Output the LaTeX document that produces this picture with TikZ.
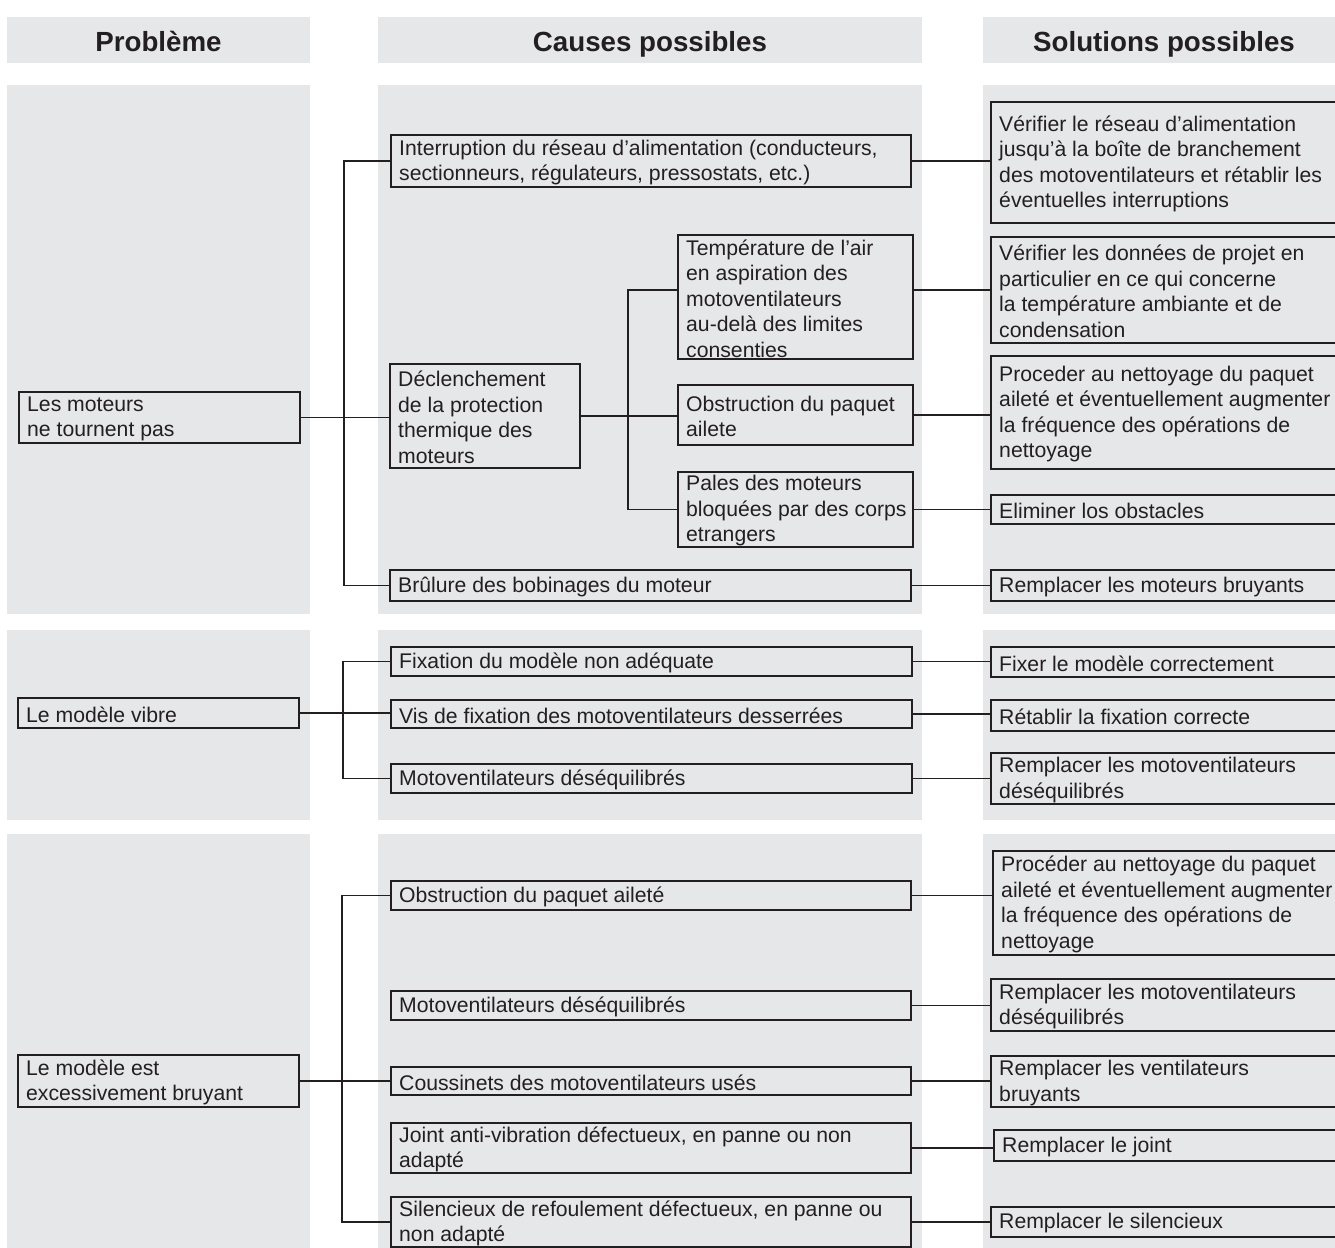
\documentclass[tikz,border=0pt]{standalone}
\usepackage{fontspec}
\setmainfont{Liberation Sans}
\definecolor{bg}{HTML}{E6E7E8}
\definecolor{ink}{HTML}{231F20}
\tikzset{
  boxst/.style={draw=ink, line width=1.8pt, fill=bg, inner sep=0pt, rectangle},
  txtst/.style={inner sep=0pt, align=left, text=ink, font=\fontsize{21.2pt}{25.5pt}\selectfont},
  headst/.style={inner sep=0pt, text=ink, anchor=base, font=\fontsize{27.7pt}{30pt}\selectfont\bfseries},
  wire/.style={draw=ink, line width=1.8pt},
  panel/.style={fill=bg, draw=none}
}
\newcommand\mkbox[6]{%
  \node[boxst, anchor=north west, minimum width={#4pt-#2pt}, minimum height={#5pt-#3pt}] (#1) at (#2,#3) {};
  \node[txtst, anchor=west] (#1t) at ([xshift=9pt,yshift=-1.5pt]#1.west) {#6};}
\begin{document}
\begin{tikzpicture}[x=1pt,y=-1pt]
\path[use as bounding box] (0,0) rectangle (1335,1247);
\clip (0,0) rectangle (1335,1247);
% panels
\foreach \t/\b in {17/63,85/614,630/820,834/1250}{
  \fill[panel] (7,\t) rectangle (310,\b);
  \fill[panel] (378,\t) rectangle (922,\b);
  \fill[panel] (983,\t) rectangle (1345,\b);
}
% headers
\node[headst] (h1) at (158.5,51.5) {Problème};
\node[headst] (h2) at (650,51.5) {Causes possibles};
\node[headst] (h3) at (1164,51.5) {Solutions possibles};
% problems
\mkbox{p1}{18}{391}{299}{442}{Les moteurs\\ne tournent pas}
\mkbox{p2}{17}{697}{298}{727}{Le modèle vibre}
\mkbox{p3}{17}{1054}{298}{1106}{Le modèle est\\excessivement bruyant}
% causes
\mkbox{c1}{390}{134}{910}{186}{Interruption du réseau d’alimentation (conducteurs,\\sectionneurs, régulateurs, pressostats, etc.)}
\mkbox{c2}{389}{363}{579}{467}{Déclenchement\\de la protection\\thermique des\\moteurs}
\mkbox{c3}{677}{234}{912}{358}{Température de l’air\\en aspiration des\\motoventilateurs\\au-delà des limites\\consenties}
\mkbox{c4}{677}{384}{912}{444}{Obstruction du paquet\\ailete}
\mkbox{c5}{677}{471}{912}{546}{Pales des moteurs\\bloquées par des corps\\etrangers}
\mkbox{c6}{389}{569}{910}{600}{Brûlure des bobinages du moteur}
\mkbox{c7}{390}{646}{911}{675}{Fixation du modèle non adéquate}
\mkbox{c8}{390}{699}{911}{727}{Vis de fixation des motoventilateurs desserrées}
\mkbox{c9}{390}{763}{911}{792}{Motoventilateurs déséquilibrés}
\mkbox{c10}{390}{880}{910}{909}{Obstruction du paquet aileté}
\mkbox{c11}{390}{990}{910}{1019}{Motoventilateurs déséquilibrés}
\mkbox{c12}{390}{1066}{910}{1094}{Coussinets des motoventilateurs usés}
\mkbox{c13}{390}{1122}{910}{1172}{Joint anti-vibration défectueux, en panne ou non\\adapté}
\mkbox{c14}{390}{1196}{910}{1246}{Silencieux de refoulement défectueux, en panne ou\\non adapté}
% solutions
\mkbox{s1}{990}{101}{1345}{222}{Vérifier le réseau d’alimentation\\jusqu’à la boîte de branchement\\des motoventilateurs et rétablir les\\éventuelles interruptions}
\mkbox{s2}{990}{236}{1345}{342}{Vérifier les données de projet en\\particulier en ce qui concerne\\la température ambiante et de\\condensation}
\mkbox{s3}{990}{355}{1345}{468}{Proceder au nettoyage du paquet\\aileté et éventuellement augmenter\\la fréquence des opérations de\\nettoyage}
\mkbox{s4}{990}{494}{1345}{523}{Eliminer los obstacles}
\mkbox{s5}{990}{569}{1345}{600}{Remplacer les moteurs bruyants}
\mkbox{s6}{990}{646}{1345}{676}{Fixer le modèle correctement}
\mkbox{s7}{990}{699}{1345}{730}{Rétablir la fixation correcte}
\mkbox{s8}{990}{752}{1345}{803}{Remplacer les motoventilateurs\\déséquilibrés}
\mkbox{s9}{992}{850}{1345}{954}{Procéder au nettoyage du paquet\\aileté et éventuellement augmenter\\la fréquence des opérations de\\nettoyage}
\mkbox{s10}{990}{978}{1345}{1030}{Remplacer les motoventilateurs\\déséquilibrés}
\mkbox{s11}{990}{1055}{1345}{1106}{Remplacer les ventilateurs\\bruyants}
\mkbox{s12}{993}{1129}{1345}{1160}{Remplacer le joint}
\mkbox{s13}{990}{1206}{1345}{1236}{Remplacer le silencieux}
% block 1 connectors
\draw[wire] (p1.east) -- (p1.east -| c2.west);
\draw[wire] (c1.west) -- ++(-46,0) |- (c6.west);
\draw[wire] (c2.east) -- (c2.east -| c4.west);
\draw[wire] (c3.west |- s2.west) -- ++(-49,0) |- (c5.west);
\draw[wire] (c1.east) -- (c1.east -| s1.west);
\draw[wire] (c3.east |- s2.west) -- (s2.west);
\draw[wire] (c4.east) -- (c4.east -| s3.west);
\draw[wire] (c5.east) -- (c5.east -| s4.west);
\draw[wire] (c6.east) -- (c6.east -| s5.west);
% block 2 connectors
\draw[wire] (p2.east) -- (p2.east -| c8.west);
\draw[wire] (c7.west) -- ++(-47,0) |- (c9.west);
\draw[wire] (c7.east) -- (c7.east -| s6.west);
\draw[wire] (c8.east) -- (c8.east -| s7.west);
\draw[wire] (c9.east) -- (c9.east -| s8.west);
% block 3 connectors
\draw[wire] (p3.east) -- (p3.east -| c12.west);
\draw[wire] (c10.west) -- ++(-48,0) |- (c14.west);
\draw[wire] (c10.east) -- (c10.east -| s9.west);
\draw[wire] (c11.east) -- (c11.east -| s10.west);
\draw[wire] (c12.east) -- (c12.east -| s11.west);
\draw[wire] (c13.east) -- (c13.east -| s12.west);
\draw[wire] (c14.east) -- (c14.east -| s13.west);
\end{tikzpicture}
\end{document}
